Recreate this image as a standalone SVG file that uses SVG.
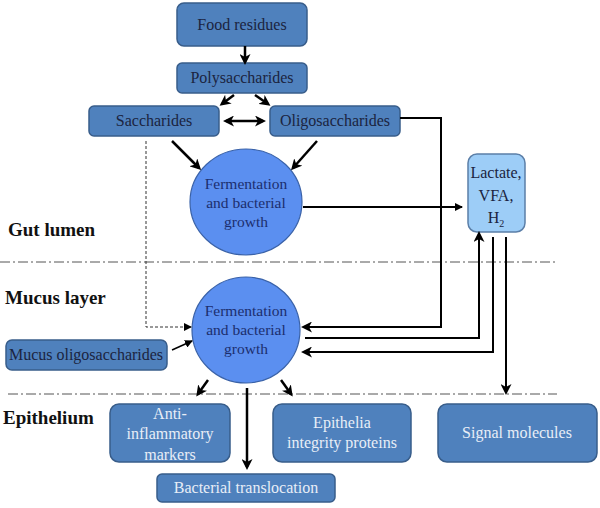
<svg xmlns="http://www.w3.org/2000/svg" width="600" height="508" viewBox="0 0 600 508">
<defs>
<marker id="ah" markerWidth="11" markerHeight="11" refX="8" refY="5.5" orient="auto" markerUnits="userSpaceOnUse"><path d="M0,0 L11,5.5 L0,11 L3,5.5 Z" fill="#000"/></marker>
<marker id="ahs" markerWidth="8" markerHeight="8" refX="7" refY="4" orient="auto" markerUnits="userSpaceOnUse"><path d="M0,0 L8,4 L0,8 Z" fill="#000"/></marker>
<marker id="ahstart" markerWidth="11" markerHeight="11" refX="3" refY="5.5" orient="auto" markerUnits="userSpaceOnUse"><path d="M11,0 L0,5.5 L11,11 L8,5.5 Z" fill="#000"/></marker>
</defs>
<style>
text{font-family:Liberation Serif,DejaVu Serif,serif}
.box{fill:#4f81bd;stroke:#385d8a;stroke-width:1.5}
.circ{fill:#5b8ff0;stroke:#3a62a8;stroke-width:1.2}
.lac{fill:#9dcdf7;stroke:#5b7fa8;stroke-width:1.5}
.t{font-size:16px;fill:#1b2440;text-anchor:middle}
.tc{font-size:15.5px;fill:#1c2e6e;text-anchor:middle}
.tw{font-size:16px;fill:#e8eef7;text-anchor:middle}
.lbl{font-size:19px;font-weight:bold;fill:#111}
.sep{stroke:#555;stroke-width:1;stroke-dasharray:10,3,2,3;fill:none}
.a{stroke:#000;stroke-width:2.5;fill:none}
.l{stroke:#000;stroke-width:2;fill:none}
</style>

<g id="separators">
<line class="sep" x1="0" y1="262" x2="556" y2="262"/>
<line class="sep" x1="8" y1="394" x2="557" y2="394"/>
</g>

<g id="labels">
<text class="lbl" x="8" y="236">Gut lumen</text>
<text class="lbl" x="5" y="304">Mucus layer</text>
<text class="lbl" x="3" y="424">Epithelium</text>
</g>

<g id="food-residues"><rect class="box" x="177" y="3" width="130" height="43" rx="7"/><text class="t" x="242" y="30">Food residues</text></g>
<g id="polysaccharides"><rect class="box" x="177" y="63" width="130" height="30" rx="5"/><text class="t" x="242" y="83">Polysaccharides</text></g>
<g id="saccharides"><rect class="box" x="89" y="106" width="130" height="30" rx="5"/><text class="t" x="154" y="126">Saccharides</text></g>
<g id="oligosaccharides"><rect class="box" x="270" y="106" width="130" height="30" rx="5"/><text class="t" x="335" y="126">Oligosaccharides</text></g>

<g id="fermentation-lumen"><ellipse class="circ" cx="246" cy="202" rx="56" ry="53"/>
<text class="tc" x="246" y="189">Fermentation</text><text class="tc" x="246" y="208">and bacterial</text><text class="tc" x="246" y="227">growth</text></g>

<g id="lactate-vfa-h2"><rect class="lac" x="468" y="154" width="57" height="78" rx="9"/>
<text class="t" x="496" y="178">Lactate,</text><text class="t" x="496" y="201">VFA,</text><text class="t" x="496" y="223">H<tspan font-size="10" dy="4">2</tspan></text></g>

<g id="fermentation-mucus"><ellipse class="circ" cx="246" cy="330" rx="54" ry="53"/>
<text class="tc" x="246" y="316">Fermentation</text><text class="tc" x="246" y="335">and bacterial</text><text class="tc" x="246" y="354">growth</text></g>

<g id="mucus-oligosaccharides"><rect class="box" x="6" y="340" width="161" height="30" rx="6"/><text class="t" x="86" y="360" font-size="15">Mucus oligosaccharides</text></g>

<g id="anti-inflammatory-markers"><rect class="box" x="110" y="404" width="120" height="58" rx="9"/>
<text class="tw" x="170" y="419">Anti-</text><text class="tw" x="170" y="439">inflammatory</text><text class="tw" x="170" y="460">markers</text></g>

<g id="epithelia-integrity-proteins"><rect class="box" x="273" y="404" width="138" height="58" rx="9"/>
<text class="tw" x="342" y="428">Epithelia</text><text class="tw" x="342" y="448">integrity proteins</text></g>

<g id="signal-molecules"><rect class="box" x="438" y="404" width="159" height="58" rx="9"/>
<text class="tw" x="517" y="438">Signal molecules</text></g>

<g id="bacterial-translocation"><rect class="box" x="157" y="474" width="178" height="28" rx="5"/>
<text class="tw" x="246" y="493">Bacterial translocation</text></g>

<g id="connectors">
<line class="a" x1="245" y1="46" x2="245" y2="62" marker-end="url(#ah)"/>
<line class="a" x1="234" y1="95" x2="222" y2="104" marker-end="url(#ah)"/>
<line class="a" x1="255" y1="95" x2="268" y2="104" marker-end="url(#ah)"/>
<line class="a" x1="226" y1="121" x2="263" y2="121" marker-start="url(#ahstart)" marker-end="url(#ah)"/>
<line class="a" x1="172" y1="141" x2="199" y2="168" marker-end="url(#ah)"/>
<line class="a" x1="317" y1="141" x2="293" y2="168" marker-end="url(#ah)"/>
<line class="l" x1="303" y1="207" x2="462" y2="207" stroke-width="1.5" marker-end="url(#ahs)"/>
<polyline class="l" points="400,118 441,118 441,327 304,327" marker-end="url(#ah)"/>
<polyline class="l" points="305,338 479,338 479,234" marker-end="url(#ah)"/>
<polyline class="l" points="493,237 493,352 304,352" marker-end="url(#ah)"/>
<line class="l" x1="506" y1="237" x2="506" y2="392" marker-end="url(#ah)"/>
<polyline points="146,141 146,327 191,327" fill="none" stroke="#333" stroke-width="1" stroke-dasharray="3,2" marker-end="url(#ahs)"/>
<line stroke="#000" stroke-width="1.5" x1="172" y1="350" x2="192" y2="341" marker-end="url(#ahs)"/>
<line class="a" x1="208" y1="380" x2="198" y2="394" marker-end="url(#ah)"/>
<line class="a" x1="281" y1="380" x2="291" y2="394" marker-end="url(#ah)"/>
<line class="a" x1="247" y1="388" x2="247" y2="467" marker-end="url(#ah)"/>
</g>
</svg>
